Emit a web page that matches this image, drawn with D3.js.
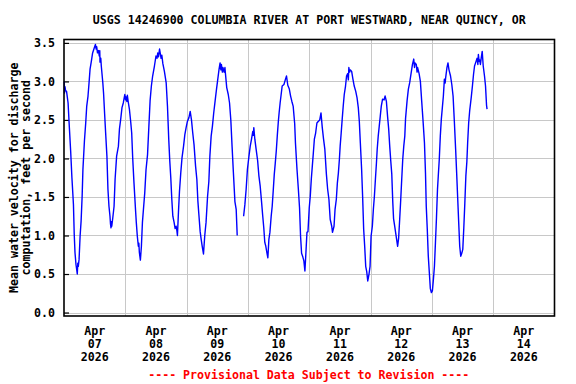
<!DOCTYPE html>
<html>
<head>
<meta charset="utf-8">
<script src="https://cdn.jsdelivr.net/npm/d3@7"></script>
<style>
  html, body { margin: 0; padding: 0; background: #ffffff; }
  svg { display: block; }
  text { font-family: "DejaVu Sans Mono", "Liberation Mono", monospace; font-weight: bold; }
</style>
</head>
<body>
<svg id="chart" width="576" height="384"></svg>
<script>
// ---------- DATA ----------
const title = "USGS 14246900 COLUMBIA RIVER AT PORT WESTWARD, NEAR QUINCY, OR";
const yTitleLines = ["Mean water velocity for discharge", "computation, feet per second"];
const footer = "---- Provisional Data Subject to Revision ----";
const startDate = "2026-04-07T00:00:00Z";
const endDate = "2026-04-15T00:00:00Z";
const yTicks = [0.0, 0.5, 1.0, 1.5, 2.0, 2.5, 3.0, 3.5];
const dayLabels = ["2026-04-07", "2026-04-08", "2026-04-09", "2026-04-10", "2026-04-11", "2026-04-12", "2026-04-13", "2026-04-14"];
// hours since 2026-04-07 00:00
const hours = [
0.1,0.2,0.4,0.6,1.0,1.6,2.1,2.6,3.1,3.7,4.0,4.3,4.7,5.0,5.2,5.4,5.6,5.9,6.3,6.7,7.1,7.4,8.0,8.5,8.9,9.4,9.8,10.2,10.7,11.2,11.9,12.3,12.6,12.8,13.1,13.5,13.8,14.0,14.1,14.4,14.6,15.2,15.5,15.9,16.3,16.8,17.2,17.6,18.0,18.2,18.4,18.6,18.7,19.1,19.6,20.0,20.6,21.3,21.7,22.2,22.7,23.2,23.8,24.1,24.3,24.6,24.8,25.2,25.6,26.1,26.5,26.9,27.4,28.0,28.3,28.7,29.1,29.3,29.5,29.9,30.3,30.7,31.1,31.6,32.1,32.7,33.2,33.7,34.2,34.7,35.4,36.0,36.4,36.7,37.0,37.4,37.7,38.0,38.3,38.7,39.3,40.0,40.5,41.0,41.4,41.8,42.2,42.6,43.1,43.5,43.9,44.2,44.4,44.8,45.2,45.7,46.2,46.8,47.3,47.8,48.3,48.9,49.4,49.9,50.4,50.9,51.5,52.0,52.4,52.8,53.3,53.7,54.1,54.4,54.6,55.1,55.6,56.2,56.7,57.1,57.6,58.1,58.6,59.2,59.7,60.2,60.7,61.1,61.4,61.6,62.0,62.2,62.7,63.0,63.2,63.7,64.3,64.8,65.3,65.8,66.3,66.9,67.4,67.8,
69.0,
70.3,70.8,71.3,71.8,72.4,72.9,73.4,73.9,74.1,74.3,74.7,75.2,75.8,76.3,76.8,77.3,77.8,78.2,78.6,79.0,79.4,79.8,80.2,80.6,81.1,81.5,81.9,82.3,82.7,83.1,83.5,83.9,84.2,84.6,85.0,85.4,86.1,86.7,87.1,87.6,88.2,88.7,89.2,89.7,90.3,90.6,91.2,91.7,92.2,92.6,93.0,93.5,93.9,94.3,94.7,95.1,95.5,96.0,96.4,96.8,97.2,97.6,98.0,98.5,99.0,99.5,100.1,100.6,101.1,101.6,102.1,102.7,103.2,103.7,104.2,104.8,105.1,105.7,106.1,106.6,107.0,107.4,107.8,108.1,108.5,108.9,109.3,109.7,110.2,110.6,111.0,111.3,111.5,111.8,112.1,112.6,113.1,113.6,114.2,114.7,115.2,115.6,116.0,116.5,116.9,117.3,117.7,118.1,118.5,118.9,119.4,119.8,120.2,120.7,121.1,121.5,121.9,122.3,122.6,123.0,123.4,123.8,124.2,124.7,125.3,125.7,126.2,126.7,127.1,127.5,127.9,128.3,128.7,129.0,129.4,129.8,130.2,130.6,131.0,131.4,131.8,132.2,132.6,133.0,133.4,133.7,134.3,134.8,135.3,135.8,136.4,136.9,137.2,137.4,137.9,138.2,138.4,139.0,139.5,140.0,140.5,141.1,141.5,141.8,142.2,142.6,143.0,143.4,143.8,144.2,144.6,145.0,145.4,145.8,146.2,146.5,146.9,147.3,147.7,148.1,148.5,148.9,149.2,149.4,149.9,150.3,150.7,151.3,151.8,152.3,152.8,153.3,153.7,154.1,154.5,154.9,155.3,155.7,156.1,156.5,156.9,157.3,157.7,158.0,158.4,158.8,159.4,159.9,160.3,160.7,161.2,161.7,162.0,162.2,162.5,162.7,163.0,163.3,163.7,164.1,164.6,165.0,165.4,165.6
];
// feet per second (null = missing record)
const velocity = [
3.00,2.85,2.93,2.88,2.87,2.72,2.40,2.10,1.75,1.40,1.02,0.78,0.62,0.55,0.50,0.64,0.60,0.69,0.99,1.19,1.51,1.85,2.23,2.46,2.68,2.81,2.98,3.16,3.26,3.37,3.44,3.48,3.42,3.45,3.37,3.40,3.33,3.40,3.25,3.30,3.20,2.98,2.84,2.58,2.33,2.03,1.60,1.38,1.25,1.15,1.10,1.18,1.12,1.23,1.38,1.73,2.03,2.16,2.38,2.51,2.66,2.72,2.83,2.76,2.80,2.74,2.82,2.72,2.64,2.48,2.33,2.00,1.68,1.33,1.17,0.99,0.86,0.90,0.78,0.68,0.86,1.17,1.34,1.55,1.85,2.05,2.40,2.75,2.94,3.07,3.20,3.33,3.30,3.37,3.32,3.42,3.36,3.30,3.34,3.23,3.13,2.98,2.68,2.25,1.97,1.75,1.47,1.25,1.17,1.09,1.12,1.06,1.00,1.30,1.57,1.81,2.01,2.16,2.31,2.40,2.48,2.53,2.61,2.50,2.33,2.18,1.90,1.73,1.45,1.27,1.05,0.95,0.86,0.80,0.76,1.00,1.17,1.51,1.70,2.03,2.29,2.42,2.59,2.76,2.90,3.03,3.16,3.24,3.15,3.22,3.12,3.18,3.12,3.18,3.10,2.92,2.83,2.72,2.50,2.15,1.82,1.44,1.34,1.00,
null,
1.25,1.40,1.60,1.86,2.03,2.16,2.25,2.35,2.30,2.40,2.25,2.12,1.97,1.77,1.64,1.45,1.25,1.10,0.91,0.86,0.78,0.71,0.95,1.04,1.25,1.38,1.58,1.79,1.94,2.10,2.30,2.48,2.59,2.72,2.83,2.94,2.96,3.03,3.07,2.95,2.90,2.81,2.74,2.68,2.45,2.20,1.86,1.62,1.36,0.99,0.77,0.72,0.67,0.54,0.78,1.04,1.05,1.36,1.51,1.73,1.90,2.07,2.25,2.33,2.46,2.48,2.50,2.59,2.40,2.25,2.12,1.80,1.60,1.47,1.21,1.12,1.04,1.12,1.34,1.47,1.68,1.81,1.99,2.16,2.33,2.51,2.68,2.83,2.94,3.07,3.10,3.02,3.18,3.12,3.15,3.13,3.03,2.94,2.87,2.79,2.66,2.48,2.20,1.86,1.50,1.08,0.86,0.60,0.53,0.41,0.50,0.60,0.99,1.12,1.34,1.51,1.73,1.94,2.12,2.29,2.42,2.55,2.68,2.77,2.76,2.81,2.74,2.53,2.38,2.16,1.97,1.80,1.43,1.22,1.13,1.04,0.95,0.86,0.97,1.21,1.46,1.73,1.99,2.16,2.29,2.52,2.75,2.90,2.98,3.09,3.22,3.29,3.18,3.24,3.22,3.12,3.18,3.10,3.00,2.75,2.51,2.20,1.81,1.38,1.08,0.73,0.52,0.31,0.26,0.28,0.43,0.60,0.91,1.23,1.60,1.77,1.99,2.29,2.51,2.66,2.81,3.03,2.98,3.05,3.18,3.24,3.15,3.07,2.96,2.81,2.48,2.12,1.81,1.49,1.17,0.86,0.73,0.77,0.82,1.10,1.42,1.77,1.96,2.20,2.46,2.62,2.79,2.95,3.09,3.20,3.25,3.30,3.22,3.35,3.26,3.28,3.22,3.30,3.39,3.20,3.07,2.94,2.69,2.64
];

// ---------- LAYOUT ----------
const W = 576, H = 384;
const plot = { left: 64, right: 554.5, top: 39.5, bottom: 316 };
const yDomain = [-0.045, 3.544];

const svg = d3.select("#chart");
const t0 = new Date(startDate);
const t1 = new Date(endDate);
const data = hours.map((h, i) => ({ t: new Date(t0.getTime() + h * 3600000), v: velocity[i] }));

const x = d3.scaleUtc().domain([t0, t1]).range([plot.left, plot.right]);
const y = d3.scaleLinear().domain(yDomain).range([plot.bottom, plot.top]);

// grid
const gridColor = "#c8c8c8";
const midnights = d3.utcDay.range(d3.utcDay.offset(t0, 1), t1);
svg.append("g").selectAll("line").data(midnights).join("line")
  .attr("x1", d => Math.round(x(d)) + 0.5).attr("x2", d => Math.round(x(d)) + 0.5)
  .attr("y1", plot.top).attr("y2", plot.bottom)
  .attr("stroke", gridColor).attr("stroke-width", 1);
svg.append("g").selectAll("line").data(yTicks).join("line")
  .attr("x1", plot.left).attr("x2", plot.right)
  .attr("y1", d => Math.round(y(d)) + 0.5).attr("y2", d => Math.round(y(d)) + 0.5)
  .attr("stroke", gridColor).attr("stroke-width", 1);

// y axis ticks + labels
const yAxis = d3.axisLeft(y).tickValues(yTicks).tickFormat(d3.format(".1f")).tickSize(-5).tickPadding(9);
const gy = svg.append("g").attr("transform", `translate(${plot.left},0)`).call(yAxis);
gy.select(".domain").remove();
gy.selectAll(".tick line").attr("stroke", "#000").attr("stroke-width", 1.2);
gy.selectAll(".tick text").attr("font-size", "11.6px").attr("font-family", "DejaVu Sans Mono").attr("font-weight", "bold").attr("fill", "#000");

// data line
const line = d3.line()
  .defined(d => d.v !== null)
  .x(d => x(d.t))
  .y(d => y(d.v));
svg.append("path")
  .datum(data)
  .attr("fill", "none")
  .attr("stroke", "#0000ff")
  .attr("stroke-width", 1.4)
  .attr("stroke-linejoin", "round")
  .attr("d", line);

// frame
svg.append("rect")
  .attr("x", plot.left).attr("y", plot.top)
  .attr("width", plot.right - plot.left).attr("height", plot.bottom - plot.top)
  .attr("fill", "none").attr("stroke", "#000").attr("stroke-width", 1.6);

// x labels at noon
const parseDay = d3.utcParse("%Y-%m-%d");
const fmtMon = d3.utcFormat("%b"), fmtDay = d3.utcFormat("%d"), fmtYr = d3.utcFormat("%Y");
const xl = svg.append("g").selectAll("text").data(dayLabels.map(s => d3.utcHour.offset(parseDay(s), 12))).join("text")
  .attr("x", d => x(d)).attr("text-anchor", "middle")
  .attr("font-size", "11.6px").attr("fill", "#000");
xl.append("tspan").attr("x", d => x(d)).attr("y", 334.5).text(d => fmtMon(d));
xl.append("tspan").attr("x", d => x(d)).attr("y", 347.5).text(d => fmtDay(d));
xl.append("tspan").attr("x", d => x(d)).attr("y", 360.5).text(d => fmtYr(d));

// title
svg.append("text").attr("x", (plot.left + plot.right) / 2).attr("y", 24)
  .attr("text-anchor", "middle").attr("font-size", "11.6px").attr("fill", "#000").text(title);

// y title
const cy = (plot.top + plot.bottom) / 2;
svg.append("text").attr("transform", `translate(17.5,${cy}) rotate(-90)`)
  .attr("text-anchor", "middle").attr("font-size", "11.6px").attr("fill", "#000").text(yTitleLines[0]);
svg.append("text").attr("transform", `translate(30,${cy}) rotate(-90)`)
  .attr("text-anchor", "middle").attr("font-size", "11.6px").attr("fill", "#000").text(yTitleLines[1]);

// footer
svg.append("text").attr("x", (plot.left + plot.right) / 2 - 0.5).attr("y", 379)
  .attr("text-anchor", "middle").attr("font-size", "11.6px").attr("fill", "#ff0000").text(footer);
</script>
</body>
</html>
